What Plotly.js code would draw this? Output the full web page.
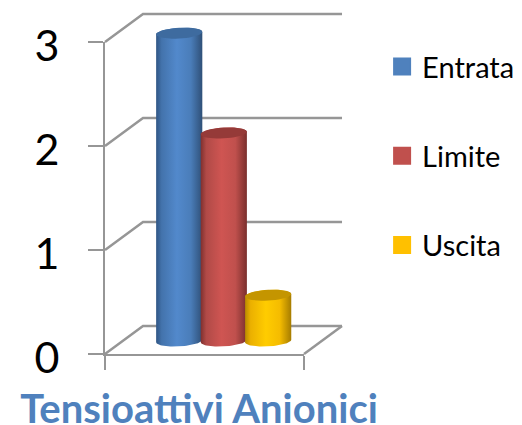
<!DOCTYPE html>
<html>
<head>
<meta charset="utf-8">
<script src="https://cdn.plot.ly/plotly-3.0.1.min.js"></script>
<style>html,body{margin:0;padding:0;background:#fff}</style>
</head>
<body>
<div id="chart" style="width:522px;height:425px"></div>
<script>
var seriesNames = ["Entrata", "Limite", "Uscita"];
var seriesValues = [2.96, 2.0, 0.44];
var yTicks = [0, 1, 2, 3];
var chartTitle = "Tensioattivi Anionici";

var legendColors = ["#4F81BD", "#C0504D", "#FFC000"];
var capColors = ["#3E6B9F", "#953A38", "#C49500"];
var sideScales = [
  [[0, "#2F5584"], [0.12, "#4373AC"], [0.45, "#5289CC"], [0.75, "#4A7DB9"], [1, "#2F5078"]],
  [[0, "#7F302E"], [0.12, "#B04A47"], [0.45, "#CF5552"], [0.75, "#C0504D"], [1, "#7A2F2D"]],
  [[0, "#B88A00"], [0.12, "#EBB000"], [0.45, "#FFCC00"], [0.75, "#F5BC00"], [1, "#A67C00"]]
];
var gridColor = "#969696";

// page geometry of the front plane of the box
var W = 522, H = 425, left = 105, right = 304, top0 = 42, bottom0 = 354;
var unitX = right - left, unitY = (bottom0 - top0) / 3;

// projection of the oblique box, in axis units
var depthX = 0.191, depthY = 0.27, midY = 0.125;
var barCenters = [0.373, 0.597, 0.82], barRx = 0.116, barRy = 0.052, barTilt = 0.012;

function arc(cx, cy, a0, a1) {
  var xs = [], ys = [];
  for (var i = 0; i <= 40; i++) {
    var a = a0 + (a1 - a0) * i / 40;
    var ux = Math.cos(a);
    xs.push(cx + barRx * ux);
    ys.push(cy + barRy * Math.sin(a) + barTilt * ux);
  }
  return {x: xs, y: ys};
}

var traces = [];
var base = {type: "scatter", mode: "lines", xaxis: "x2", yaxis: "y2", showlegend: false, hoverinfo: "skip"};

// walls and floor
var gx = [], gy = [];
yTicks.forEach(function (v) {
  gx.push(0, depthX, 1 + depthX, null);
  gy.push(v, v + depthY, v + depthY, null);
});
gx.push(1, 1 + depthX);
gy.push(0, depthY);
traces.push(Object.assign({}, base, {x: gx, y: gy, line: {color: gridColor, width: 2.5}}));

// cylinders
seriesValues.forEach(function (v, i) {
  var cx = barCenters[i];
  var low = arc(cx, midY, Math.PI, 2 * Math.PI);
  var high = arc(cx, midY + v, 0, Math.PI);
  traces.push(Object.assign({}, base, {x: low.x.concat(high.x), y: low.y.concat(high.y), fill: "toself",
    line: {width: 0, color: legendColors[i]},
    fillgradient: {type: "horizontal", colorscale: sideScales[i]}}));
  var cap = arc(cx, midY + v, 0, 2 * Math.PI);
  traces.push(Object.assign({}, base, {x: cap.x, y: cap.y, fill: "toself", fillcolor: capColors[i],
    line: {width: 0, color: capColors[i]}}));
});

// legend entries
seriesNames.forEach(function (name, i) {
  traces.push({type: "scatter", mode: "markers", name: name, legendgroup: name, x: [null], y: [null],
    marker: {symbol: "square", size: 16, color: legendColors[i], line: {width: 2, color: legendColors[i]}}});
});

var layout = {
  width: W, height: H,
  margin: {l: 0, r: 0, t: 0, b: 0, autoexpand: false},
  paper_bgcolor: "#fff", plot_bgcolor: "rgba(0,0,0,0)",
  font: {family: "Lato, sans-serif", color: "#000"},
  title: {text: "<b>" + chartTitle + "</b>", x: 199 / W, xref: "paper", xanchor: "center",
    y: 1 - 409 / H, yref: "container", yanchor: "middle", automargin: false,
    font: {family: "Lato, sans-serif", size: 40, color: "#4F81BD"}},
  showlegend: true,
  legend: {xref: "container", yref: "container", x: 0.732, y: 0.903, xanchor: "left", yanchor: "top",
    font: {size: 29, color: "#000"}, itemwidth: 30, tracegroupgap: 48.5, maxheight: 400, bgcolor: "rgba(0,0,0,0)"},
  xaxis: {domain: [left / W, right / W], range: [0, 1], tickvals: [0, 1], ticks: "outside", ticklen: 14, tickwidth: 2, tickcolor: gridColor,
    showticklabels: false, showline: true, linecolor: gridColor, linewidth: 2, showgrid: false, zeroline: false, fixedrange: true},
  yaxis: {domain: [(H - bottom0) / H, (H - top0) / H], range: [0, 3], tickvals: yTicks, ticktext: yTicks.map(String), ticks: "outside", ticklen: 15, tickwidth: 2,
    tickcolor: gridColor, showline: true, linecolor: gridColor, linewidth: 2, showgrid: false, zeroline: false,
    tickfont: {size: 43, color: "#000"}, ticklabelstandoff: 20, ticklabelshift: 4, fixedrange: true},
  xaxis2: {domain: [0, 1], anchor: "y2", range: [-left / unitX, (W - left) / unitX], visible: false, fixedrange: true},
  yaxis2: {domain: [0, 1], anchor: "x2", range: [-(H - bottom0) / unitY, bottom0 / unitY], visible: false, fixedrange: true}
};

Plotly.newPlot("chart", traces, layout, {displayModeBar: false, staticPlot: true});
</script>
</body>
</html>
